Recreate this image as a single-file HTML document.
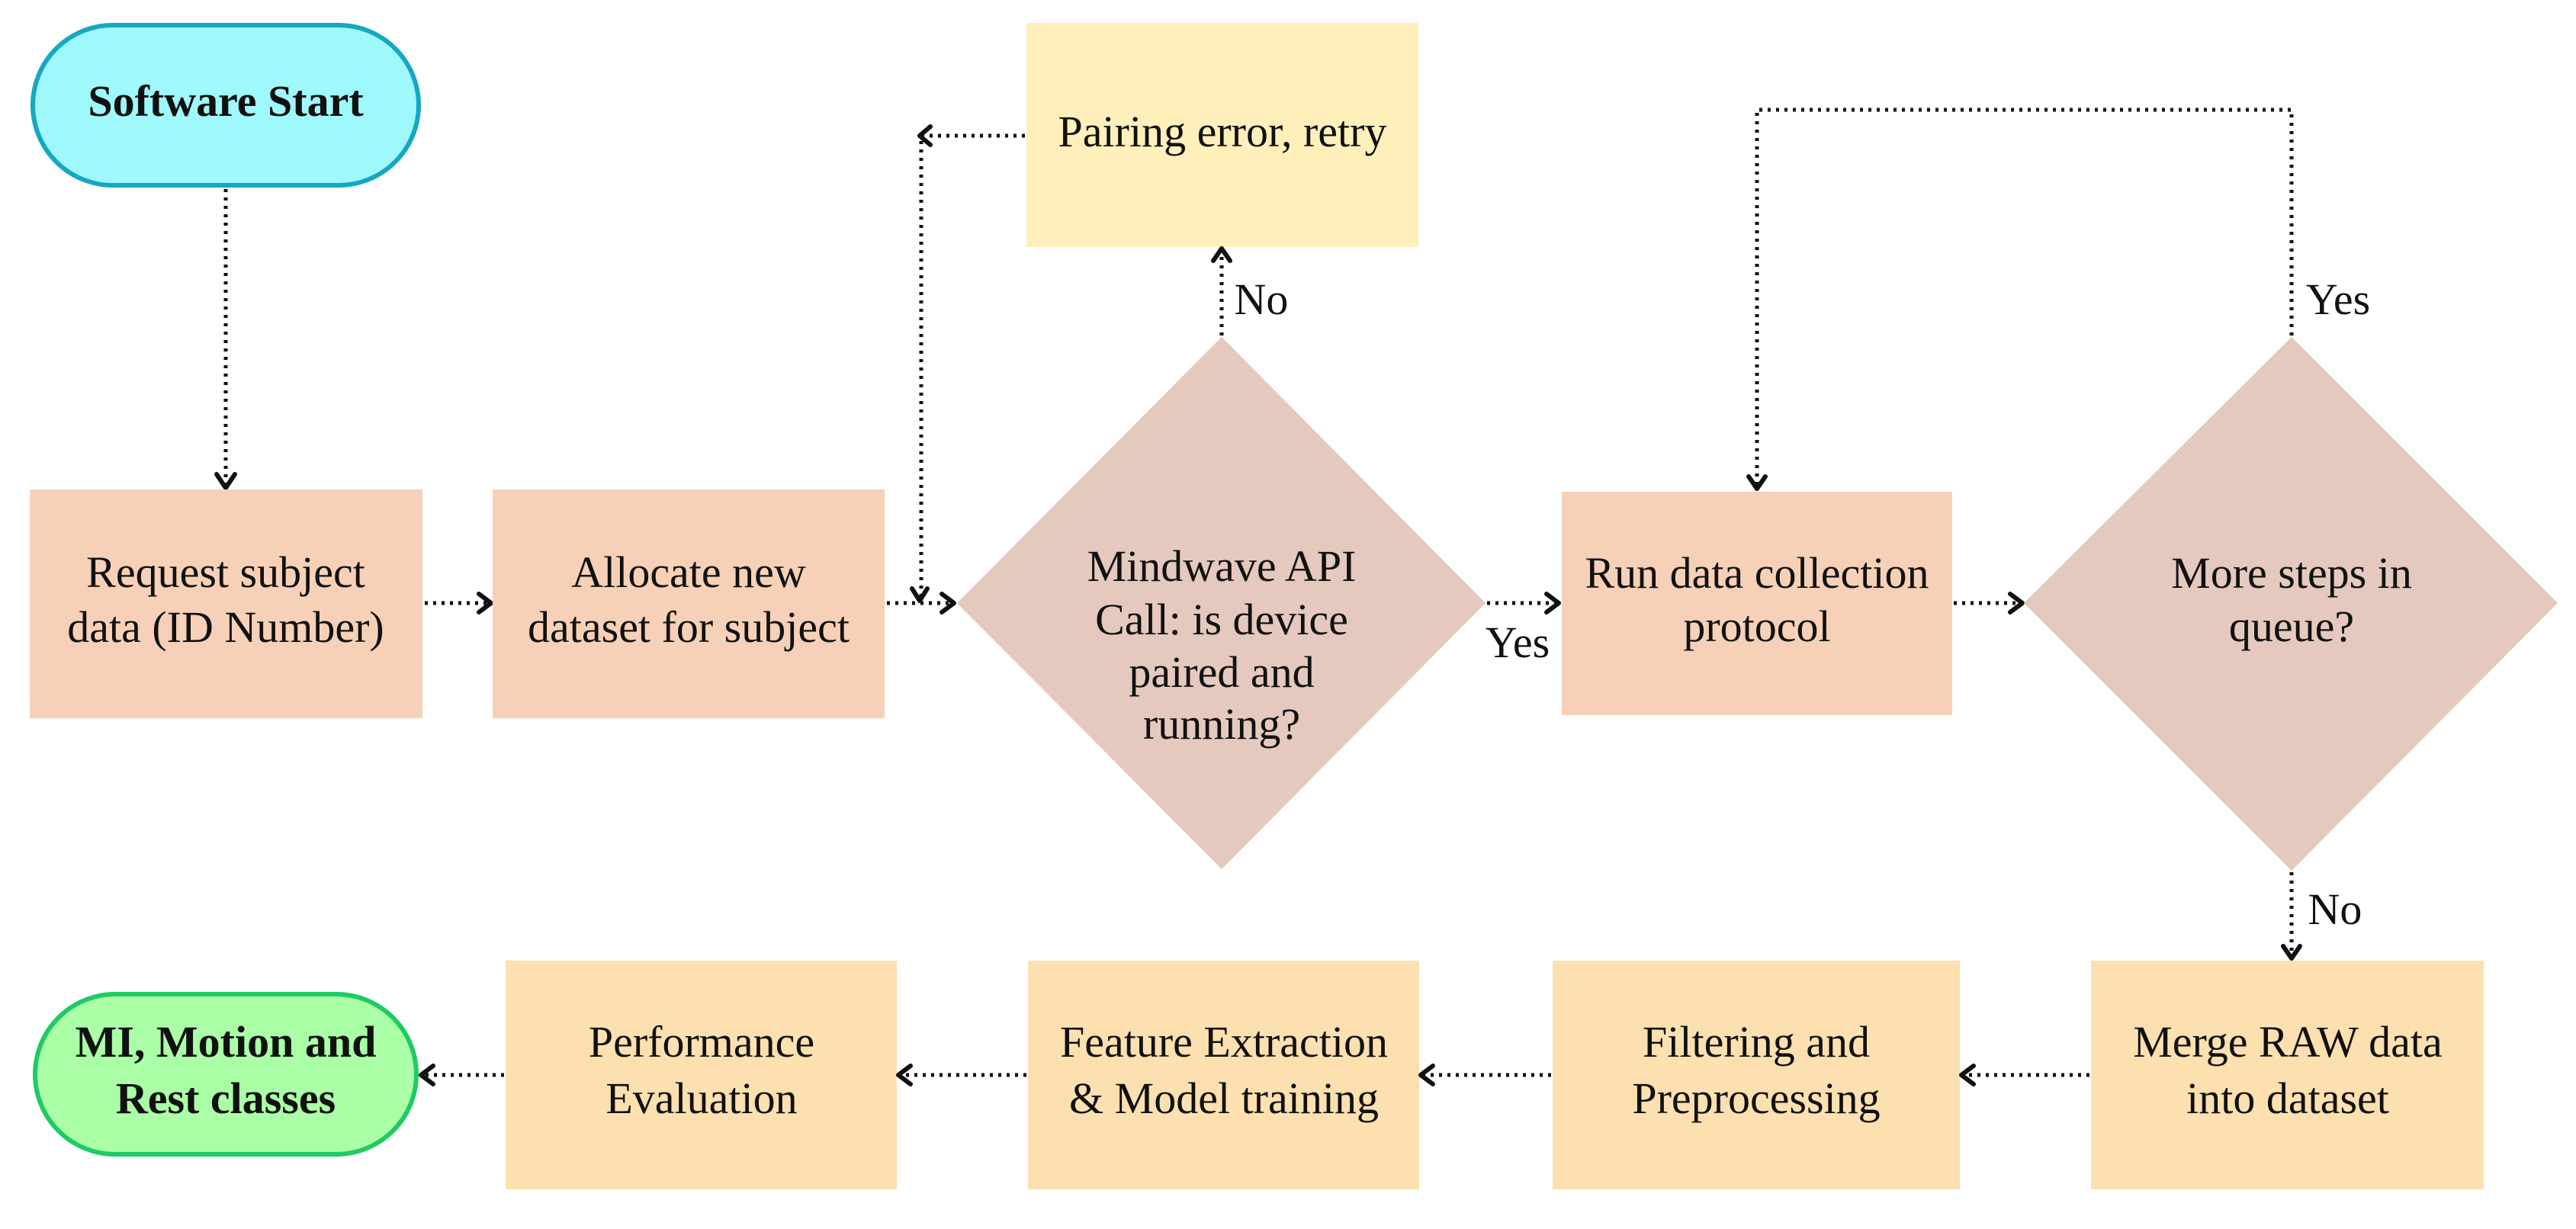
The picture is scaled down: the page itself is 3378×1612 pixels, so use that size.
<!DOCTYPE html>
<html><head><meta charset="utf-8"><style>
html,body{margin:0;padding:0;background:#fff;}
svg{display:block;}
text{font-family:"Liberation Serif",serif;font-size:58px;fill:#111;text-anchor:middle;}
.b{font-weight:bold;}
.d{stroke:#111;stroke-width:5;fill:none;stroke-dasharray:4 7;}
.h{stroke:#111;stroke-width:6;fill:none;stroke-linecap:round;stroke-linejoin:round;}
</style></head><body>
<svg width="3378" height="1612" viewBox="0 0 3378 1612" xmlns="http://www.w3.org/2000/svg">
<rect x="43" y="33" width="506" height="210" rx="105" fill="#9ff9fc" stroke="#16a7c2" stroke-width="6"/>
<text class="b" x="296" y="152">Software Start</text>
<path class="d" d="M296 248 V636"/><path class="h" d="M284 622 L296 640 L308 622"/>
<rect x="39" y="642" width="515" height="300" fill="#f6d1b7"/>
<text x="296" y="770">Request subject</text><text x="296" y="842">data (ID Number)</text>
<path class="d" d="M557 791 H640"/><path class="h" d="M628 779 L644 791 L628 803"/>
<rect x="646" y="642" width="514" height="300" fill="#f6d1b7"/>
<text x="903" y="770">Allocate new</text><text x="903" y="842">dataset for subject</text>
<path class="d" d="M1163 791 H1247"/><path class="h" d="M1235 779 L1251 791 L1235 803"/>
<rect x="1346" y="30" width="514" height="294" fill="#fff0bb"/>
<text x="1603" y="192">Pairing error, retry</text>
<path class="d" d="M1344 178 H1208 V786"/><path class="h" d="M1220 166 L1206 178 L1220 190"/><path class="h" d="M1196 772 L1206 788 L1216 772"/>
<polygon points="1602,442 1948,791 1602,1140 1255,791" fill="#e5c9bf"/>
<text x="1602" y="762">Mindwave API</text><text x="1602" y="832">Call: is device</text><text x="1602" y="901">paired and</text><text x="1602" y="969">running?</text>
<path class="d" d="M1602 440 V330"/><path class="h" d="M1591 342 L1602 326 L1613 342"/>
<text x="1654" y="412">No</text>
<path class="d" d="M1950 791 H2040"/><path class="h" d="M2028 779 L2044 791 L2028 803"/>
<text x="1990" y="862">Yes</text>
<rect x="2048" y="645" width="512" height="293" fill="#f6d1b7"/>
<text x="2304" y="771">Run data collection</text><text x="2304" y="841">protocol</text>
<path class="d" d="M2562 791 H2648"/><path class="h" d="M2636 779 L2652 791 L2636 803"/>
<polygon points="3005,442 3354,791 3005,1142 2654,791" fill="#e5c9bf"/>
<text x="3005" y="771">More steps in</text><text x="3005" y="841">queue?</text>
<path class="d" d="M3005 440 V144 H2304 V638"/><path class="h" d="M2293 625 L2304 641 L2315 625"/>
<text x="3066" y="412">Yes</text>
<path class="d" d="M3005 1144 V1255"/><path class="h" d="M2994 1241 L3005 1257 L3016 1241"/>
<text x="3062" y="1212">No</text>
<rect x="2742" y="1260" width="515" height="300" fill="#fde0b0"/>
<text x="3000" y="1386">Merge RAW data</text><text x="3000" y="1460">into dataset</text>
<rect x="2036" y="1260" width="534" height="300" fill="#fde0b0"/>
<text x="2303" y="1386">Filtering and</text><text x="2303" y="1460">Preprocessing</text>
<rect x="1348" y="1260" width="513" height="300" fill="#fde0b0"/>
<text x="1605" y="1386">Feature Extraction</text><text x="1605" y="1460">&amp; Model training</text>
<rect x="663" y="1260" width="513" height="300" fill="#fde0b0"/>
<text x="920" y="1386">Performance</text><text x="920" y="1460">Evaluation</text>
<rect x="46" y="1304" width="500" height="210" rx="105" fill="#aaffa6" stroke="#1ecb64" stroke-width="6"/>
<text class="b" x="296" y="1386">MI, Motion and</text><text class="b" x="296" y="1460">Rest classes</text>
<path class="d" d="M2740 1410 H2576"/><path class="h" d="M2588 1398 L2572 1410 L2588 1422"/>
<path class="d" d="M2034 1410 H1867"/><path class="h" d="M1879 1398 L1863 1410 L1879 1422"/>
<path class="d" d="M1346 1410 H1182"/><path class="h" d="M1194 1398 L1178 1410 L1194 1422"/>
<path class="d" d="M661 1410 H556"/><path class="h" d="M568 1398 L552 1410 L568 1422"/>
</svg>
</body></html>
